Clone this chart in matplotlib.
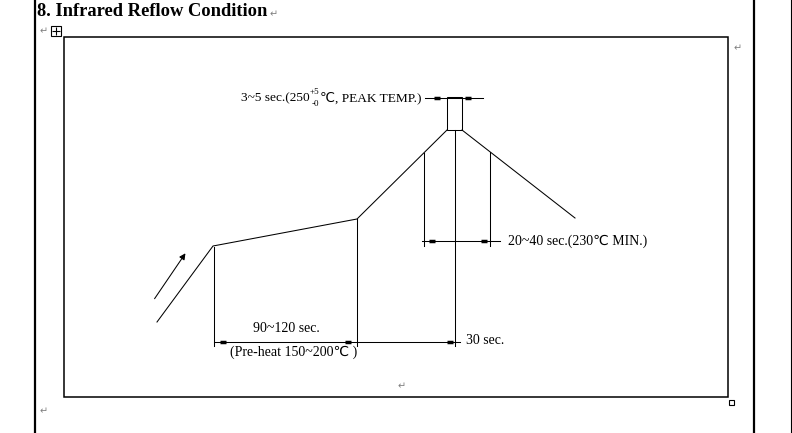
import matplotlib.pyplot as plt
from matplotlib.patches import Rectangle

# reflow profile corners (drawing coordinates, pixels)
profile_x = [157, 213, 357, 447]
profile_y = [322, 246, 219, 130]
cool_x = [462, 575]
cool_y = [130, 218]
peak_box = (447, 97, 15, 33)

# dimension lines: (x0, x1, y)
dims = [(214, 460, 342), (422, 500, 241), (425, 483, 98)]
arrow_marks = [(223, 342), (348, 342), (450, 342), (432, 241), (484, 241), (437, 98), (468, 98)]
# vertical guide lines: (x, y_top, y_bottom)
guides = [(214, 247, 346), (357, 219, 346), (455, 130, 346), (424, 153, 246), (490, 152, 246)]

labels = [
    (508, 241, "20~40 sec.(230℃ MIN.)", "left"),
    (286, 328, "90~120 sec.", "center"),
    (294, 352, "(Pre-heat 150~200℃ )", "center"),
    (466, 340, "30 sec.", "left"),
]
peak_parts = ["3~5 sec.(250", "+5", "-0", "℃, PEAK TEMP.)"]
returns = [(40, 31), (734, 48), (398, 386), (40, 411)]

fig = plt.figure(figsize=(7.92, 4.33), dpi=100)
ax = fig.add_axes([0, 0, 1, 1])
ax.set_xlim(0, 792)
ax.set_ylim(433, 0)
ax.axis("off")
fig.canvas.draw()
rend = fig.canvas.get_renderer()

fam = ["Liberation Serif", "DejaVu Sans"]

def edges(t):
    bb = t.get_window_extent(rend)
    inv = ax.transData.inverted()
    return inv.transform((bb.x0, bb.y0))[0], inv.transform((bb.x1, bb.y0))[0]

# page borders
ax.plot([35, 35], [0, 433], color="black", lw=1.6)
ax.plot([754, 754], [0, 433], color="black", lw=1.6)
ax.plot([791, 791], [0, 433], color="black", lw=0.8)
ax.add_patch(Rectangle((64, 37), 664, 360, fill=False, ec="black", lw=1.1))
ax.add_patch(Rectangle((728.5, 399.5), 5, 5, fill=False, ec="black", lw=0.8))
ax.add_patch(Rectangle((50.5, 25.5), 10, 10, fill=False, ec="black", lw=0.8))
ax.plot([55.5], [30.5], marker="+", color="black", ms=6, mew=0.8)

title = ax.text(37, 12, "8. Infrared Reflow Condition", fontsize=13.3, fontweight="bold",
                family="Liberation Serif", va="center", ha="left")
ax.text(edges(title)[1] + 2, 14, "↵", fontsize=7, color="#808080", va="center",
        ha="left", family="DejaVu Sans")
for rx, ry in returns:
    ax.text(rx, ry, "↵", fontsize=7, color="#808080", va="center", ha="left",
            family="DejaVu Sans")

lw = 0.75
ax.plot(profile_x, profile_y, color="black", lw=lw)
ax.plot(cool_x, cool_y, color="black", lw=lw)
ax.add_patch(Rectangle(peak_box[:2], peak_box[2], peak_box[3], fill=False, ec="black", lw=lw))
ax.annotate("", xy=(187, 251), xytext=(153, 301),
            arrowprops=dict(arrowstyle="-|>", color="black", lw=lw, mutation_scale=9))

for x0, x1, y in dims:
    ax.plot([x0, x1], [y, y], color="black", lw=lw)
for x, y0, y1 in guides:
    ax.plot([x, x], [y0, y1], color="black", lw=lw)
for x, y in arrow_marks:
    ax.plot([x - 3, x + 3], [y, y], color="black", lw=2.5, solid_capstyle="butt")

for x, y, s, ha in labels:
    ax.text(x, y, s, fontsize=10, family=fam, ha=ha, va="center")

# peak label with +5/-0 tolerance stacked, laid out right-to-left from the dimension line
p4 = ax.text(421, 98, peak_parts[3], fontsize=9.6, family=fam, ha="right", va="center")
xs = edges(p4)[0] - 0.5
ax.text(xs, 92, peak_parts[1], fontsize=6.5, family=fam, ha="right", va="center")
sub = ax.text(xs, 103.5, peak_parts[2], fontsize=6.5, family=fam, ha="right", va="center")
ax.text(edges(sub)[0] - 2, 98, peak_parts[0], fontsize=9.6, family=fam, ha="right", va="center")

fig.savefig("out.png", dpi=100)
